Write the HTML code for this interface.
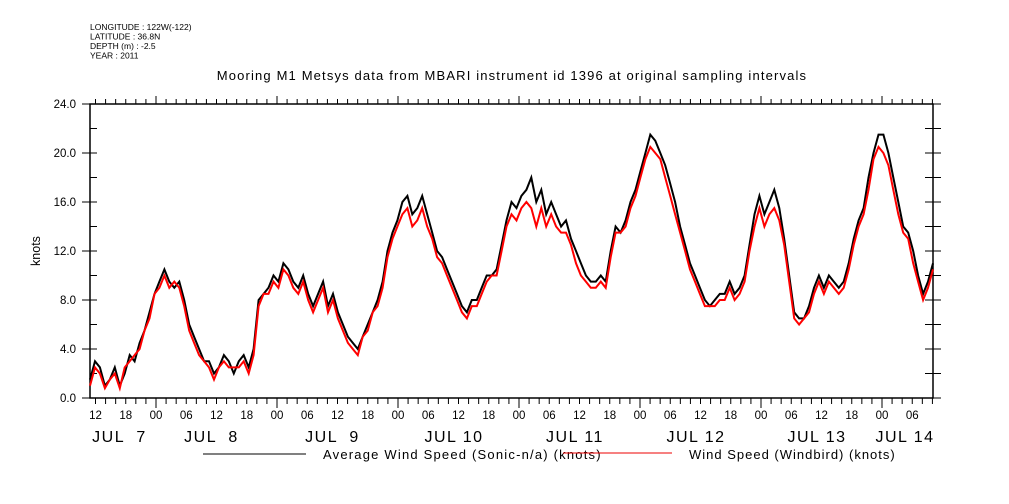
<!DOCTYPE html>
<html><head><meta charset="utf-8"><style>
body{margin:0;background:#fff}
svg{display:block;font-family:"Liberation Sans",sans-serif}
</style></head><body>
<svg id="chart" width="1009" height="504" viewBox="0 0 1009 504">
<g font-size="8.5" fill="#000">
<text x="90" y="30">LONGITUDE : 122W(-122)</text>
<text x="90" y="39.5">LATITUDE : 36.8N</text>
<text x="90" y="49">DEPTH (m) : -2.5</text>
<text x="90" y="58.5">YEAR : 2011</text>
</g>
<text x="512" y="80" text-anchor="middle" font-size="13" letter-spacing="1.15">Mooring M1 Metsys data from MBARI instrument id 1396 at original sampling intervals</text>
<text x="40" y="251" text-anchor="middle" font-size="12.5" transform="rotate(-90 40 251)">knots</text>
<g id="axes"></g>
<g id="series"></g>
<g>
<line x1="203" y1="454" x2="306" y2="454" stroke="#000" stroke-width="1"/>
<text x="323" y="459" font-size="13" letter-spacing="1.2">Average Wind Speed (Sonic-n/a) (knots)</text>
<line x1="563" y1="453" x2="672" y2="453" stroke="#e00" stroke-width="1"/>
<text x="689" y="459" font-size="13" letter-spacing="1.0">Wind Speed (Windbird) (knots)</text>
</g>
</svg>
<script>
const yTicks=[0,4,8,12,16,20,24];
const hourLabels=["12","18","00","06","12","18","00","06","12","18","00","06","12","18","00","06","12","18","00","06","12","18","00","06","12","18","00","06"];
const dateLabels=["JUL  7","JUL  8","JUL  9","JUL 10","JUL 11","JUL 12","JUL 13","JUL 14"];
const datePos=[119.5,211.5,332.5,454,575,696,817,905];
const avgSpeed=[1.5,3.0,2.5,1.0,1.5,2.5,1.0,2.0,3.5,3.0,4.5,5.5,7,8.5,9.5,10.5,9.5,9.0,9.5,8.0,6,5.0,4,3.0,3,2.0,2.5,3.5,3,2.0,3,3.5,2.5,4.0,8,8.5,9,10.0,9.5,11.0,10.5,9.5,9,10.0,8.5,7.5,8.5,9.5,7.5,8.5,7,6.0,5,4.5,4,5.0,6,7.0,8,9.5,12,13.5,14.5,16.0,16.5,15.0,15.5,16.5,15,13.5,12,11.5,10.5,9.5,8.5,7.5,7,8.0,8,9.0,10,10.0,10.5,12.5,14.5,16.0,15.5,16.5,17,18.0,16,17.0,15,16.0,15,14.0,14.5,13.0,12,11.0,10,9.5,9.5,10.0,9.5,12.0,14,13.5,14.5,16.0,17,18.5,20,21.5,21,20.0,19,17.5,16,14.0,12.5,11.0,10,9.0,8,7.5,8,8.5,8.5,9.5,8.5,9.0,10,12.5,15,16.5,15,16.0,17,15.5,13,10.0,7,6.5,6.5,7.5,9,10.0,9,10.0,9.5,9.0,9.5,11.0,13,14.5,15.5,18.0,20,21.5,21.5,20.0,18,16.0,14,13.5,12,10.0,8.5,9.5,11];
const birdSpeed=[1.0,2.5,2.0,0.8,1.5,2.0,0.8,2.5,3.0,3.5,4.0,5.5,6.5,8.5,9.0,10.0,9.0,9.5,9.0,7.5,5.5,4.5,3.5,3.0,2.5,1.5,2.5,3.0,2.5,2.5,2.5,3.0,2.0,3.5,7.5,8.5,8.5,9.5,9.0,10.5,10.0,9.0,8.5,9.5,8.0,7.0,8.0,9.0,7.0,8.0,6.5,5.5,4.5,4.0,3.5,5.0,5.5,7.0,7.5,9.0,11.5,13.0,14.0,15.0,15.5,14.0,14.5,15.5,14.0,13.0,11.5,11.0,10.0,9.0,8.0,7.0,6.5,7.5,7.5,8.5,9.5,10.0,10.0,12.0,14.0,15.0,14.5,15.5,16.0,15.5,14.0,15.5,14.0,15.0,14.0,13.5,13.5,12.5,11.0,10.0,9.5,9.0,9.0,9.5,9.0,11.5,13.5,13.5,14.0,15.5,16.5,18.0,19.5,20.5,20.0,19.5,18.0,16.5,15.0,13.5,12.0,10.5,9.5,8.5,7.5,7.5,7.5,8.0,8.0,9.0,8.0,8.5,9.5,12.0,14.0,15.5,14.0,15.0,15.5,14.5,12.5,9.5,6.5,6.0,6.5,7.0,8.5,9.5,8.5,9.5,9.0,8.5,9.0,10.5,12.5,14.0,15.0,17.0,19.5,20.5,20.0,19.0,17.0,15.0,13.5,13.0,11.0,9.5,8.0,9.0,10.5];
const X0=90,X1=933,Y0=398,Y1=104,NS="http://www.w3.org/2000/svg";
const yScale=v=>Y0-(v/24)*(Y0-Y1);
const xScale=(i,n)=>X0+i*(X1-X0)/(n-1);
const PXH=121/24, HX0=95.5;
const axes=document.getElementById('axes'),series=document.getElementById('series');
function mk(tag,at){const e=document.createElementNS(NS,tag);for(const k in at)e.setAttribute(k,at[k]);return e;}
const frame=mk('rect',{x:X0,y:Y1,width:X1-X0,height:Y0-Y1,fill:'none',stroke:'#000','stroke-width':1.5});


axes.appendChild(frame);
for(let v=0;v<=24;v+=2){
  const y=yScale(v);
  const t1=mk('line',{x1:X0,y1:y,x2:X0+7,y2:y,stroke:'#000'});
  
  
  axes.appendChild(t1);
  const t2=mk('line',{x1:X1-8,y1:y,x2:X1+8,y2:y,stroke:'#000'});
  
  
  axes.appendChild(t2);
}
yTicks.forEach(v=>{
  const y=yScale(v);
  const t=mk('line',{x1:X0-8,y1:y,x2:X0,y2:y,stroke:'#000'});
  
  
  axes.appendChild(t);
  const l=mk('text',{x:X0-14,y:y+4,'text-anchor':'end','font-size':11.5});
  l.textContent=v.toFixed(1);
  
  
  axes.appendChild(l);
});
for(let h=-2;;h+=2){
  const x=HX0+h*PXH; if(x>X1)break; if(x<X0)continue;
  const major=((h+12)%24)==0;
  const tb=mk('line',{x1:x,y1:Y0,x2:x,y2:Y0+(major?10:6),stroke:'#000'});
  
  
  axes.appendChild(tb);
  const tt=mk('line',{x1:x,y1:Y1,x2:x,y2:Y1-(major?8:5),stroke:'#000'});
  
  
  axes.appendChild(tt);
}
hourLabels.forEach((s,i)=>{
  const x=HX0+i*6*PXH; if(x>X1)return;
  const l=mk('text',{x:x,y:419,'text-anchor':'middle','font-size':11.5});
  l.textContent=s;
  
  
  axes.appendChild(l);
});
dateLabels.forEach((s,i)=>{
  const l=mk('text',{x:datePos[i],y:442,'text-anchor':'middle','font-size':16,'letter-spacing':1.5});
  l.style.whiteSpace='pre';
  l.textContent=s;
  
  
  axes.appendChild(l);
});
function draw(arr,color,name){
  const pts=arr.map((v,i)=>xScale(i,arr.length).toFixed(1)+','+yScale(v).toFixed(1)).join(' ');
  const p=mk('polyline',{points:pts,fill:'none',stroke:color,'stroke-width':2});
  
  
  series.appendChild(p);
}
draw(avgSpeed,'#000','average-wind-speed-line');
draw(birdSpeed,'#f00','windbird-wind-speed-line');
</script>
</body></html>
